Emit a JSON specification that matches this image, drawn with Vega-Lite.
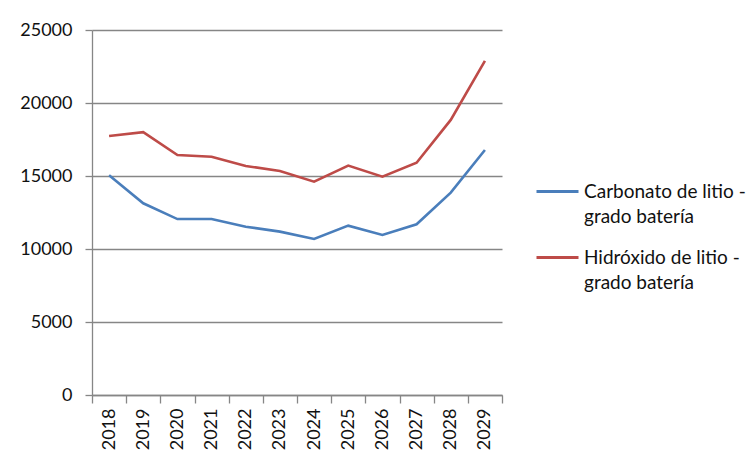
{
  "$schema": "https://vega.github.io/schema/vega-lite/v6.json",
  "width": 410,
  "height": 365,
  "autosize": {"type": "none"},
  "padding": {"left": 92, "top": 30, "right": 248, "bottom": 67},
  "background": "white",
  "config": {
    "view": {"stroke": null},
    "font": "Lato",
    "axis": {"labelFont": "Lato", "labelFontSize": 18, "labelColor": "#111", "domainColor": "#868686", "tickColor": "#868686", "gridColor": "#868686", "domainWidth": 1.3, "tickWidth": 1.3, "gridWidth": 1.3},
    "legend": {"labelFont": "Lato", "labelFontSize": 19, "labelColor": "#111"}
  },
  "data": {
    "values": [
      {"year": "2018", "serie": "Carbonato de litio - grado batería", "valor": 15050},
      {"year": "2019", "serie": "Carbonato de litio - grado batería", "valor": 13130},
      {"year": "2020", "serie": "Carbonato de litio - grado batería", "valor": 12050},
      {"year": "2021", "serie": "Carbonato de litio - grado batería", "valor": 12050},
      {"year": "2022", "serie": "Carbonato de litio - grado batería", "valor": 11530},
      {"year": "2023", "serie": "Carbonato de litio - grado batería", "valor": 11190},
      {"year": "2024", "serie": "Carbonato de litio - grado batería", "valor": 10690},
      {"year": "2025", "serie": "Carbonato de litio - grado batería", "valor": 11600},
      {"year": "2026", "serie": "Carbonato de litio - grado batería", "valor": 10960},
      {"year": "2027", "serie": "Carbonato de litio - grado batería", "valor": 11690},
      {"year": "2028", "serie": "Carbonato de litio - grado batería", "valor": 13860},
      {"year": "2029", "serie": "Carbonato de litio - grado batería", "valor": 16780},
      {"year": "2018", "serie": "Hidróxido de litio - grado batería", "valor": 17740},
      {"year": "2019", "serie": "Hidróxido de litio - grado batería", "valor": 18000},
      {"year": "2020", "serie": "Hidróxido de litio - grado batería", "valor": 16440},
      {"year": "2021", "serie": "Hidróxido de litio - grado batería", "valor": 16320},
      {"year": "2022", "serie": "Hidróxido de litio - grado batería", "valor": 15690},
      {"year": "2023", "serie": "Hidróxido de litio - grado batería", "valor": 15340},
      {"year": "2024", "serie": "Hidróxido de litio - grado batería", "valor": 14610},
      {"year": "2025", "serie": "Hidróxido de litio - grado batería", "valor": 15710},
      {"year": "2026", "serie": "Hidróxido de litio - grado batería", "valor": 14950},
      {"year": "2027", "serie": "Hidróxido de litio - grado batería", "valor": 15910},
      {"year": "2028", "serie": "Hidróxido de litio - grado batería", "valor": 18840},
      {"year": "2029", "serie": "Hidróxido de litio - grado batería", "valor": 22880}
    ]
  },
  "mark": {"type": "line", "strokeWidth": 2.6},
  "encoding": {
    "x": {
      "field": "year",
      "type": "ordinal",
      "bandPosition": 0.5,
      "scale": {"type": "band", "paddingInner": 0, "paddingOuter": 0},
      "axis": {"title": null, "labelAngle": -90, "tickBand": "extent", "tickSize": 8, "labelPadding": 5, "grid": false}
    },
    "y": {
      "field": "valor",
      "type": "quantitative",
      "scale": {"domain": [0, 25000], "nice": false},
      "axis": {"title": null, "values": [0, 5000, 10000, 15000, 20000, 25000], "format": "d", "tickSize": 7, "labelPadding": 13, "grid": true}
    },
    "color": {
      "field": "serie",
      "type": "nominal",
      "scale": {"domain": ["Carbonato de litio - grado batería", "Hidróxido de litio - grado batería"], "range": ["#4A7EBB", "#BE4B48"]},
      "legend": {
        "title": null,
        "orient": "none",
        "legendX": 443,
        "legendY": 139,
        "symbolType": "stroke",
        "symbolSize": 1764,
        "symbolStrokeWidth": 3,
        "labelOffset": 4,
        "rowPadding": 8,
        "labelLimit": 300,
        "labelExpr": "[split(datum.label, ' - ')[0] + ' -', split(datum.label, ' - ')[1]]",
        "labelBaseline": "middle",
        "encode": {
          "labels": {"update": {"lineHeight": {"value": 25}}}
        }
      }
    }
  }
}
